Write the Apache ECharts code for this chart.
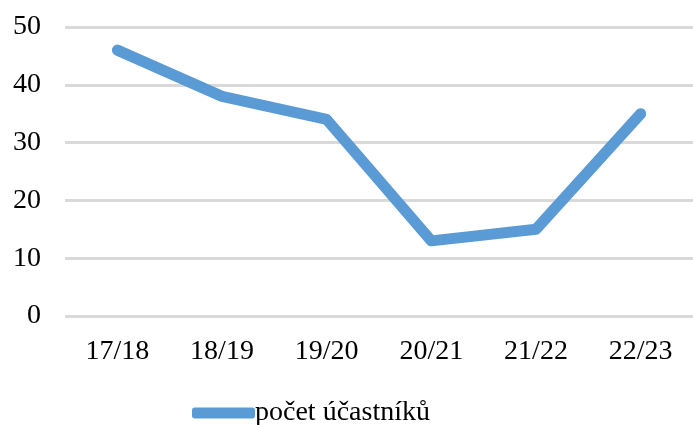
<!DOCTYPE html>
<html>
<head>
<meta charset="utf-8">
<script src="https://cdn.jsdelivr.net/npm/echarts@6/dist/echarts.min.js"></script>
<style>
    html, body { margin: 0; padding: 0; background: #fff; }
    #chart { width: 693px; height: 425px; }
</style>
</head>
<body>
<div id="chart"></div>
<script>
const categories = ['17/18', '18/19', '19/20', '20/21', '21/22', '22/23'];
const participants = [46, 38, 34, 13, 15, 35];
const seriesName = 'počet účastníků';

const chart = echarts.init(document.getElementById('chart'));
const font = '"Liberation Serif", "Times New Roman", serif';

chart.setOption({
    animation: false,
    textStyle: { fontFamily: font },
    grid: { left: 65, right: 0, top: 27, bottom: 109 },
    legend: {
        data: [seriesName],
        left: 187,
        top: 394,
        icon: 'roundRect',
        itemWidth: 63,
        itemHeight: 11,
        textStyle: { fontFamily: font, fontSize: 28, color: '#000', padding: [0, 0, 0, -5] }
    },
    xAxis: {
        type: 'category',
        data: categories,
        boundaryGap: true,
        axisLine: { show: false },
        axisTick: { show: false },
        axisLabel: { fontFamily: font, fontSize: 28, color: '#000', margin: 22 }
    },
    yAxis: {
        type: 'value',
        min: 0,
        max: 50,
        interval: 10,
        axisLine: { show: false },
        axisTick: { show: false },
        axisLabel: { fontFamily: font, fontSize: 28, color: '#000', margin: 24 },
        splitLine: { lineStyle: { color: '#d9d9d9', width: 3 } }
    },
    series: [{
        name: seriesName,
        type: 'line',
        data: participants,
        showSymbol: false,
        symbol: 'none',
        color: '#5b9bd5',
        lineStyle: { width: 11, cap: 'round', join: 'round', color: '#5b9bd5' }
    }]
});
</script>
</body>
</html>
